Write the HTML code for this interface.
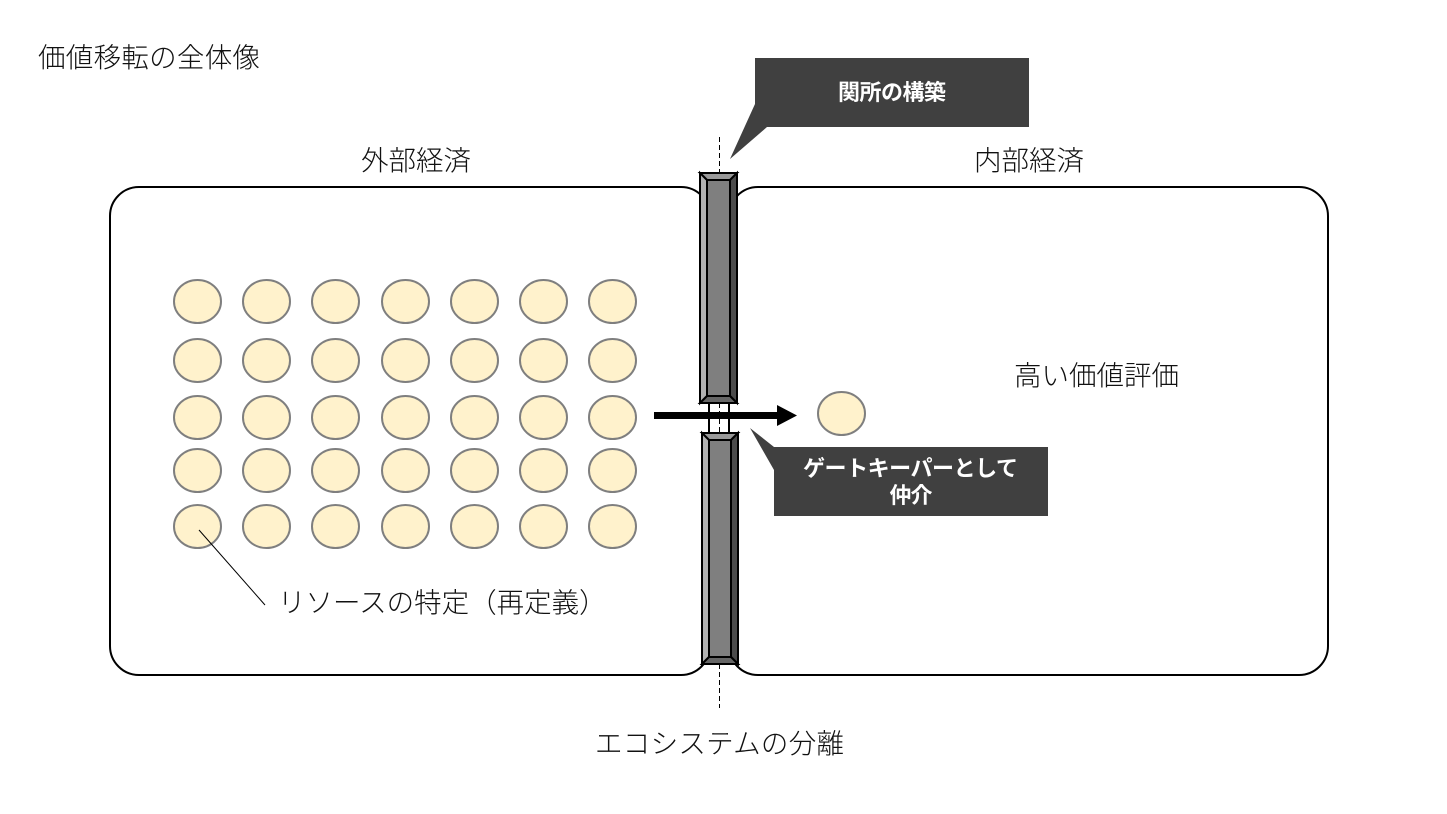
<!DOCTYPE html>
<html lang="ja">
<head>
<meta charset="utf-8">
<style>
html,body{margin:0;padding:0;background:#fff;width:1447px;height:814px;overflow:hidden}
svg{display:block}
text{font-family:"Liberation Sans","Noto Sans CJK JP",sans-serif;font-weight:300;fill:#111;font-size:27.5px;text-spacing-trim:space-all;font-feature-settings:"chws" 0,"palt" 0,"halt" 0}
.w{fill:#fff;font-weight:700;font-size:22px}
</style>
</head>
<body>
<svg width="1447" height="814" viewBox="0 0 1447 814" xmlns="http://www.w3.org/2000/svg">
<rect width="1447" height="814" fill="#fff"/>

<!-- dashed divider -->
<line x1="719.5" y1="137" x2="719.5" y2="173" stroke="#000" stroke-width="1" stroke-dasharray="5 3"/>
<line x1="719.5" y1="664" x2="719.5" y2="708" stroke="#000" stroke-width="1" stroke-dasharray="5 3"/>

<!-- economies -->
<rect x="110" y="187" width="600" height="488" rx="29" fill="#fff" stroke="#000" stroke-width="2"/>
<rect x="729" y="187" width="599" height="488" rx="29" fill="#fff" stroke="#000" stroke-width="2"/>
<rect x="709" y="403" width="20" height="30" fill="#fff" stroke="#000" stroke-width="2"/>
<line x1="719.5" y1="403" x2="719.5" y2="433" stroke="#000" stroke-width="1" stroke-dasharray="5 3"/>

<!-- labels -->
<text x="38" y="67" textLength="222">価値移転の全体像</text>
<text x="361" y="170" textLength="110">外部経済</text>
<text x="974" y="170" textLength="110">内部経済</text>
<text x="1014" y="385" textLength="165">高い価値評価</text>
<text x="278" y="612">リソースの特定（再定義）</text>
<text x="595" y="753" textLength="249">エコシステムの分離</text>

<!-- upper gate -->
<g stroke="#000" stroke-width="2" stroke-linejoin="miter">
<rect x="700" y="173" width="37" height="230" fill="#7f7f7f"/>
<polygon points="700,173 737,173 730,180 707,180" fill="#999"/>
<polygon points="700,173 707,180 707,396 700,403" fill="#b2b2b2"/>
<polygon points="737,173 730,180 730,396 737,403" fill="#4c4c4c"/>
<polygon points="700,403 707,396 730,396 737,403" fill="#666"/>
<rect x="707" y="180" width="23" height="216" fill="#7f7f7f"/>
</g>
<!-- lower gate -->
<g stroke="#000" stroke-width="2" stroke-linejoin="miter">
<rect x="702" y="433" width="36" height="231" fill="#7f7f7f"/>
<polygon points="702,433 738,433 731,440 709,440" fill="#999"/>
<polygon points="702,433 709,440 709,657 702,664" fill="#b2b2b2"/>
<polygon points="738,433 731,440 731,657 738,664" fill="#4c4c4c"/>
<polygon points="702,664 709,657 731,657 738,664" fill="#666"/>
<rect x="709" y="440" width="22" height="217" fill="#7f7f7f"/>
</g>

<!-- resources -->
<g fill="#fff2cc" stroke="#7f7f7f" stroke-width="2" transform="translate(0.5 0.5)">
<ellipse cx="197" cy="301" rx="23.5" ry="21.5"/><ellipse cx="266" cy="301" rx="23.5" ry="21.5"/><ellipse cx="335" cy="301" rx="23.5" ry="21.5"/><ellipse cx="405" cy="301" rx="23.5" ry="21.5"/><ellipse cx="474" cy="301" rx="23.5" ry="21.5"/><ellipse cx="543" cy="301" rx="23.5" ry="21.5"/><ellipse cx="612" cy="301" rx="23.5" ry="21.5"/>
<ellipse cx="197" cy="360" rx="23.5" ry="21.5"/><ellipse cx="266" cy="360" rx="23.5" ry="21.5"/><ellipse cx="335" cy="360" rx="23.5" ry="21.5"/><ellipse cx="405" cy="360" rx="23.5" ry="21.5"/><ellipse cx="474" cy="360" rx="23.5" ry="21.5"/><ellipse cx="543" cy="360" rx="23.5" ry="21.5"/><ellipse cx="612" cy="360" rx="23.5" ry="21.5"/>
<ellipse cx="197" cy="417" rx="23.5" ry="21.5"/><ellipse cx="266" cy="417" rx="23.5" ry="21.5"/><ellipse cx="335" cy="417" rx="23.5" ry="21.5"/><ellipse cx="405" cy="417" rx="23.5" ry="21.5"/><ellipse cx="474" cy="417" rx="23.5" ry="21.5"/><ellipse cx="543" cy="417" rx="23.5" ry="21.5"/><ellipse cx="612" cy="417" rx="23.5" ry="21.5"/>
<ellipse cx="197" cy="470" rx="23.5" ry="21.5"/><ellipse cx="266" cy="470" rx="23.5" ry="21.5"/><ellipse cx="335" cy="470" rx="23.5" ry="21.5"/><ellipse cx="405" cy="470" rx="23.5" ry="21.5"/><ellipse cx="474" cy="470" rx="23.5" ry="21.5"/><ellipse cx="543" cy="470" rx="23.5" ry="21.5"/><ellipse cx="612" cy="470" rx="23.5" ry="21.5"/>
<ellipse cx="197" cy="526" rx="23.5" ry="21.5"/><ellipse cx="266" cy="526" rx="23.5" ry="21.5"/><ellipse cx="335" cy="526" rx="23.5" ry="21.5"/><ellipse cx="405" cy="526" rx="23.5" ry="21.5"/><ellipse cx="474" cy="526" rx="23.5" ry="21.5"/><ellipse cx="543" cy="526" rx="23.5" ry="21.5"/><ellipse cx="612" cy="526" rx="23.5" ry="21.5"/>
<ellipse cx="841" cy="413" rx="23.5" ry="21.5"/>
</g>

<!-- leader -->
<line x1="199" y1="530" x2="265" y2="605" stroke="#000" stroke-width="1"/>

<!-- arrow -->
<rect x="654" y="412" width="124" height="7" fill="#000"/>
<polygon points="777,405 797,415.5 777,426" fill="#000"/>

<!-- callouts -->
<polygon points="755,58 1029,58 1029,127 767,127 730,159 755,104" fill="#404040"/>
<text class="w" x="892" y="100" text-anchor="middle" textLength="108">関所の構築</text>
<polygon points="774,447 1048,447 1048,516 774,516 774,470 750,428" fill="#404040"/>
<text class="w" x="910.5" y="476" text-anchor="middle" textLength="215">ゲートキーパーとして</text>
<text class="w" x="911" y="503" text-anchor="middle" textLength="43">仲介</text>
</svg>
</body>
</html>
